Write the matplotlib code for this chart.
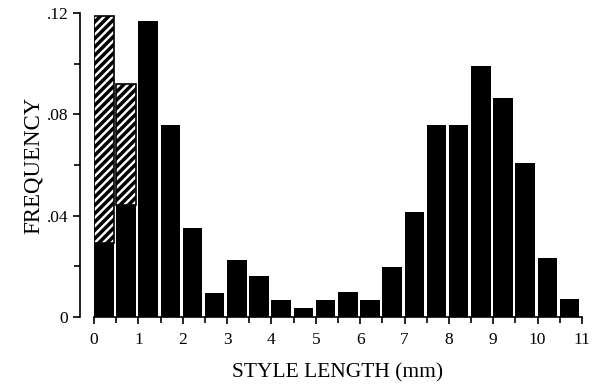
import matplotlib
matplotlib.use("Agg")
import matplotlib.pyplot as plt
import numpy as np

bin_starts = [0, 0.5, 1, 1.5, 2, 2.5, 3, 3.5, 4, 4.5, 5, 5.5, 6, 6.5, 7, 7.5, 8, 8.5, 9, 9.5, 10, 10.5]
solid_freq = [0.029, 0.044, 0.117, 0.076, 0.035, 0.0095, 0.0225, 0.016, 0.0066, 0.0036, 0.0066, 0.0097,
              0.0066, 0.0198, 0.0415, 0.076, 0.076, 0.099, 0.0866, 0.0608, 0.0231, 0.007]
hatched_freq = [0.090, 0.048] + [0] * 20

x_ticks = list(range(0, 12))
x_ticklabels = [str(v) for v in x_ticks]
y_ticks = [0, 0.04, 0.08, 0.12]
y_ticklabels = ["0", ".04", ".08", ".12"]

plt.rcParams['font.family'] = ['Liberation Serif', 'DejaVu Serif']
plt.rcParams['hatch.linewidth'] = 2.5

fig = plt.figure(figsize=(6, 3.84), dpi=100)
ax = fig.add_axes([0.1567, 0.1753, 0.8133, 0.79])

ax.bar(bin_starts, solid_freq, width=0.44, align='edge', color='black', edgecolor='black', linewidth=0)
hb = [i for i, v in enumerate(hatched_freq) if v > 0]
ax.bar([bin_starts[i] for i in hb], [hatched_freq[i] for i in hb], width=0.44, align='edge',
       bottom=[solid_freq[i] for i in hb], color='white', edgecolor='black', hatch='////', linewidth=1.2)

ax.set_xlim(0, 11)
ax.set_ylim(0, 0.12)
ax.spines['top'].set_visible(False)
ax.spines['right'].set_visible(False)
ax.spines['left'].set_position(('outward', 10))
ax.spines['left'].set_linewidth(1.2)
ax.spines['bottom'].set_linewidth(1.2)

ax.set_xticks(x_ticks)
ax.set_xticklabels(x_ticklabels)
ax.set_xticks(np.arange(0.5, 11, 1.0), minor=True)
ax.set_yticks(y_ticks)
ax.set_yticklabels(y_ticklabels)
ax.set_yticks([0.02, 0.06, 0.10], minor=True)
ax.tick_params(axis='both', which='major', direction='out', length=5, width=1.2, labelsize=12.5)
ax.tick_params(axis='both', which='minor', direction='out', length=4, width=1.2)
ax.tick_params(axis='x', pad=6)

ax.set_xlabel("STYLE LENGTH (mm)", fontsize=15.5, labelpad=11)
ax.set_ylabel("FREQUENCY", fontsize=16.5, labelpad=2)

fig.savefig("out.png", dpi=100)
